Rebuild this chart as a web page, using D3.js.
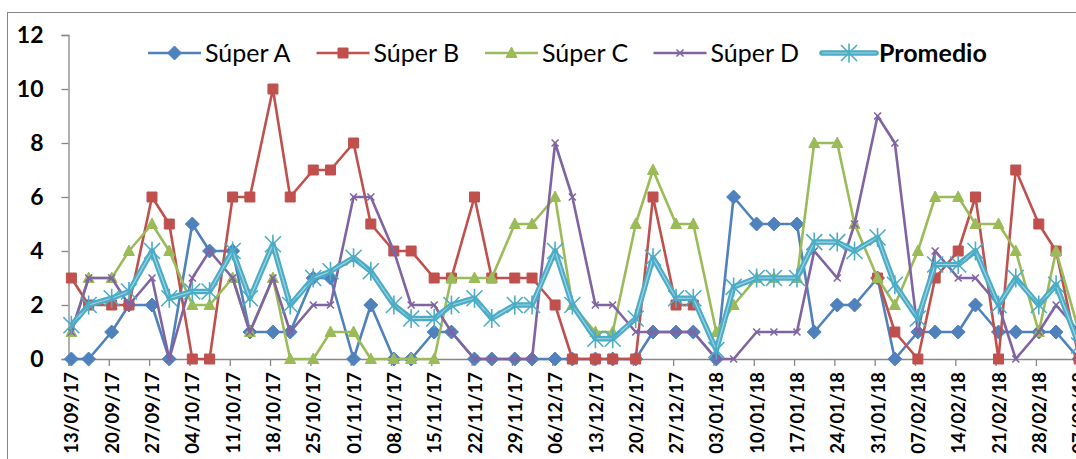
<!DOCTYPE html>
<html>
<head>
<meta charset="utf-8">
<script src="https://cdn.jsdelivr.net/npm/d3@7"></script>
<style>
body { margin: 0; background: #fff; overflow: hidden; }
svg { display: block; }
</style>
</head>
<body>
<div id="chart"></div>
<script>
// fechas de muestreo (miércoles y sábados)
var fechas = ["2017-09-13","2017-09-16","2017-09-20","2017-09-23","2017-09-27","2017-09-30",
    "2017-10-04","2017-10-07","2017-10-11","2017-10-14","2017-10-18","2017-10-21","2017-10-25","2017-10-28",
    "2017-11-01","2017-11-04","2017-11-08","2017-11-11","2017-11-15","2017-11-18","2017-11-22","2017-11-25","2017-11-29",
    "2017-12-02","2017-12-06","2017-12-09","2017-12-13","2017-12-16","2017-12-20","2017-12-23","2017-12-27","2017-12-30",
    "2018-01-03","2018-01-06","2018-01-10","2018-01-13","2018-01-17","2018-01-20","2018-01-24","2018-01-27","2018-01-31",
    "2018-02-03","2018-02-07","2018-02-10","2018-02-14","2018-02-17","2018-02-21","2018-02-24","2018-02-28",
    "2018-03-03","2018-03-07"];

var superA = [0,0,1,2,2,0,5,4,4,1, 1,1,3,3,0,2,0,0,1,1, 0,0,0,0,0,0,0,0,0,1, 1,1,0,6,5,5,5,1,2,2, 3,0,1,1,1,2,1,1,1,1,0];
var superB = [3,2,2,2,6,5,0,0,6,6, 10,6,7,7,8,5,4,4,3,3, 6,3,3,3,2,0,0,0,0,6, 2,2,null,null,null,null,null,null,null,null, 3,1,0,3,4,6,0,7,5,4,0];
var superC = [1,3,3,4,5,4,2,2,3,1, 3,0,0,1,1,0,0,0,0,3, 3,3,5,5,6,2,1,1,5,7, 5,5,1,2,3,3,3,8,8,5, 3,2,4,6,6,5,5,4,1,4,1];
var superD = [1,3,3,2,3,0,3,4,3,1, 3,1,2,2,6,6,4,2,2,1, 0,0,0,0,8,6,2,2,1,1, 1,1,0,0,1,1,1,4,3,5, 9,8,1,4,3,3,2,0,1,2,1];
var promedio = [1.25,2,2.25,2.5,4,2.25,2.5,2.5,4,2.25, 4.25,2,3,3.25,3.75,3.25,2,1.5,1.5,2,
    2.25,1.5,2,2,4,2,0.75,0.75,1.5,3.75, 2.25,2.25,0.33,2.67,3,3,3,4.33,4.33,4, 4.5,2.75,1.5,3.5,3.5,4,2,3,2,2.75,0.5];

var nombres = ["Súper A", "Súper B", "Súper C", "Súper D", "Promedio"];
var colores = ["#4F81BD", "#C0504D", "#9BBB59", "#8064A2", "#4BACC6"];
var marcas = ["diamond", "square", "triangle", "x", "star"];

// etiquetas del eje x (semanales)
var fechasEje = ["2017-09-13","2017-09-20","2017-09-27","2017-10-04","2017-10-11","2017-10-18","2017-10-25",
    "2017-11-01","2017-11-08","2017-11-15","2017-11-22","2017-11-29","2017-12-06","2017-12-13","2017-12-20","2017-12-27",
    "2018-01-03","2018-01-10","2018-01-17","2018-01-24","2018-01-31","2018-02-07","2018-02-14","2018-02-21","2018-02-28","2018-03-07"];
var ticksY = [0, 2, 4, 6, 8, 10, 12];

var parse = d3.timeParse("%Y-%m-%d");
var fmt = d3.timeFormat("%d/%m/%y");

var W = 1076, H = 459;
var svg = d3.select("#chart").append("svg").attr("width", W).attr("height", H);

// marco del grafico
svg.append("rect").attr("x", 7.5).attr("y", 12.5).attr("width", 1200).attr("height", 600)
    .attr("fill", "none").attr("stroke", "#868686").attr("stroke-width", 1);

var x = d3.scaleTime()
    .domain([parse("2017-09-13"), parse("2018-03-08")])
    .range([68.5, 1082]);
var y = d3.scaleLinear().domain([0, 12]).range([359, 35]);

// Excel centra cada punto en su dia (eje entre marcas)
function px(d) { return x(d3.timeHour.offset(d, 12)); }

var series = [superA, superB, superC, superD, promedio].map(function(vals, k) {
    return {
        nombre: nombres[k], color: colores[k], marca: marcas[k],
        pts: vals.map(function(v, i) { return {d: parse(fechas[i]), v: v}; })
    };
});

// ejes
var gy = svg.append("g").attr("transform", "translate(68.5,0)")
    .call(d3.axisLeft(y).tickValues(ticksY).tickSize(7).tickPadding(18).tickFormat(d3.format("d")));
gy.select(".domain").attr("stroke", "#868686").attr("stroke-width", 1.3);
gy.selectAll(".tick line").attr("stroke", "#868686").attr("stroke-width", 1.3);
gy.selectAll("text").attr("font-family", "Lato, 'Liberation Sans', sans-serif")
    .attr("font-size", 23).attr("font-weight", "bold").attr("fill", "#000");

var gx = svg.append("g").attr("transform", "translate(0,359)")
    .call(d3.axisBottom(x).tickValues(fechasEje.map(parse)).tickSize(7).tickFormat(fmt));
gx.select(".domain").attr("stroke", "#868686").attr("stroke-width", 1.3);
gx.selectAll(".tick line").attr("stroke", "#868686").attr("stroke-width", 1.3);
gx.selectAll("text")
    .attr("font-family", "Lato, 'Liberation Sans', sans-serif")
    .attr("font-size", 18.5).attr("font-weight", "bold").attr("fill", "#000")
    .attr("text-anchor", "end")
    .attr("transform", "rotate(-90)")
    .attr("x", -13).attr("y", 3).attr("dy", "0.35em");

function marker(tipo) {
    if (tipo == "diamond") return "M0,-7L7,0L0,7L-7,0Z";
    if (tipo == "square") return "M-5,-5H5V5H-5Z";
    if (tipo == "triangle") return "M0,-6L5.5,4.5H-5.5Z";
    if (tipo == "x") return "M-3.5,-3.5L3.5,3.5M-3.5,3.5L3.5,-3.5";
    return "M-8,-8L8,8M-8,8L8,-8M0,-9.5V9.5";
}

var line = d3.line().defined(function(p) { return p.v != null; })
    .x(function(p) { return px(p.d); }).y(function(p) { return y(p.v); });

series.forEach(function(s) {
    var g = svg.append("g");
    if (s.marca == "star") {
        g.append("path").datum(s.pts).attr("d", line).attr("fill", "none")
            .attr("stroke", s.color).attr("stroke-width", 5.5).attr("stroke-linejoin", "round");
        g.append("path").datum(s.pts).attr("d", line).attr("fill", "none")
            .attr("stroke", "#9fd4e3").attr("stroke-width", 1.2).attr("stroke-linejoin", "round");
    } else {
        g.append("path").datum(s.pts).attr("d", line).attr("fill", "none")
            .attr("stroke", s.color).attr("stroke-width", 2.6).attr("stroke-linejoin", "round");
    }
    var stroked = (s.marca == "x" || s.marca == "star");
    g.selectAll("path.m").data(s.pts.filter(function(p) { return p.v != null; }))
        .join("path").attr("class", "m")
        .attr("transform", function(p) { return "translate(" + px(p.d) + "," + y(p.v) + ")"; })
        .attr("d", marker(s.marca))
        .attr("fill", stroked ? "none" : s.color)
        .attr("stroke", s.color)
        .attr("stroke-width", stroked ? 1.6 : 1);
});

// leyenda
var leg = svg.append("g").attr("font-family", "Lato, 'Liberation Sans', sans-serif").attr("font-size", 25);
series.forEach(function(s, k) {
    var lx = 148 + k * 168.5, ly = 53;
    var g = leg.append("g").attr("transform", "translate(" + lx + "," + ly + ")");
    if (s.marca == "star") {
        g.append("line").attr("x1", 0).attr("x2", 54).attr("stroke", s.color).attr("stroke-width", 5.5).attr("stroke-linecap", "round");
        g.append("line").attr("x1", 0).attr("x2", 54).attr("stroke", "#9fd4e3").attr("stroke-width", 1.2);
    } else {
        g.append("line").attr("x1", 0).attr("x2", 53).attr("stroke", s.color).attr("stroke-width", 2.6);
    }
    var stroked = (s.marca == "x" || s.marca == "star");
    g.append("path").attr("transform", "translate(" + (s.marca == "star" ? 27 : 26.5) + ",0)")
        .attr("d", marker(s.marca))
        .attr("fill", stroked ? "none" : s.color).attr("stroke", s.color)
        .attr("stroke-width", stroked ? 1.6 : 1);
    g.append("text").attr("x", 57).attr("dy", "0.35em").attr("fill", "#000")
        .attr("font-weight", s.marca == "star" ? "bold" : "normal")
        .text(s.nombre);
});
</script>
</body>
</html>
